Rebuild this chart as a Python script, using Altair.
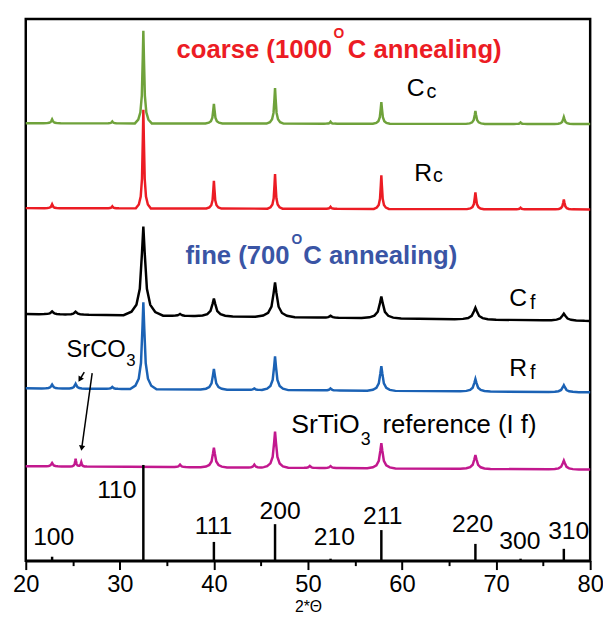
import altair as alt
import numpy as np
import pandas as pd

# ---------------- data ----------------
# x axis: 2*Theta (deg); y: stacked intensity (arbitrary units)
trace_names = ["Cc", "Rc", "Cf", "Rf", "If"]
trace_colors = ["#6fa23b", "#ec1c24", "#000000", "#1b62b5", "#c2188e"]
bg_left = [443.3, 357.3, 250.0, 174.7, 95.7]    # background at 20 deg
bg_right = [442.5, 356.0, 243.0, 170.7, 92.3]   # background at 80 deg

cc_pos = [22.8, 29.2, 32.5, 40.0, 46.5, 52.4, 57.8, 67.8, 72.6, 77.2]
cc_height = [4, 2, 94, 20, 36, 2, 22, 13, 1.5, 7]
cc_width = [0.9, 0.7, 0.9, 0.9, 0.9, 0.7, 0.9, 1.0, 0.7, 1.0]

rc_pos = [22.8, 29.2, 32.5, 40.0, 46.5, 52.4, 57.8, 67.8, 72.6, 77.2]
rc_height = [4, 2, 100, 28, 35, 2, 34, 17, 1.5, 10]
rc_width = [0.8, 0.7, 0.8, 0.8, 0.8, 0.7, 0.8, 0.9, 0.7, 0.9]

cf_pos = [22.8, 25.3, 32.5, 36.4, 40.0, 46.5, 52.4, 57.8, 67.8, 77.2]
cf_height = [3, 3, 90, 2, 18, 35, 2, 22, 12, 7]
cf_width = [1.4, 1.4, 2.1, 1.4, 2.0, 2.1, 1.4, 2.1, 2.2, 2.2]

rf_pos = [22.8, 25.3, 29.2, 32.5, 40.0, 44.3, 46.5, 52.4, 57.8, 67.8, 77.2]
rf_height = [4, 5, 2, 88, 21, 1.5, 34, 2, 25, 12.5, 7]
rf_width = [1.1, 1.1, 1.0, 1.4, 1.4, 1.0, 1.4, 1.0, 1.5, 1.6, 1.6]

if_pos = [22.8, 25.3, 25.9, 36.4, 40.0, 44.3, 46.5, 50.2, 52.4, 57.8, 67.8, 77.2]
if_height = [3.5, 8, 4.5, 2.5, 20, 3, 36.5, 2, 2, 25.5, 14, 9]
if_width = [1.0, 0.6, 0.6, 1.0, 1.4, 1.0, 1.4, 1.0, 1.0, 1.5, 1.6, 1.6]

# reference stick pattern (SrTiO3)
hkl_labels = ["100", "110", "111", "200", "210", "211", "220", "300", "310"]
hkl_pos = [22.8, 32.5, 40.0, 46.5, 52.4, 57.8, 67.8, 72.6, 77.2]
hkl_height = [4, 97, 19, 37, 2, 31, 17, 2, 12]

major_ticks = [20, 30, 40, 50, 60, 70, 80]
minor_ticks = [25, 35, 45, 55, 65, 75]

# ---------------- build line vertices from the peak tables ----------------
PROFILE_U = [-1.0, -0.6, -0.35, -0.18, -0.07, 0.0, 0.07, 0.18, 0.35, 0.6, 1.0]
PROFILE_F = [0.0, 0.04, 0.12, 0.3, 0.7, 1.0, 0.7, 0.3, 0.12, 0.04, 0.0]

tables = {
    "Cc": (cc_pos, cc_height, cc_width),
    "Rc": (rc_pos, rc_height, rc_width),
    "Cf": (cf_pos, cf_height, cf_width),
    "Rf": (rf_pos, rf_height, rf_width),
    "If": (if_pos, if_height, if_width),
}


def trace_frame(i, name):
    pos, hgt, wid = tables[name]
    xs = [20.0, 80.0]
    for c, w in zip(pos, wid):
        xs += [c + u * w for u in PROFILE_U]
    xs = np.unique(np.clip(np.array(xs), 20, 80))
    ys = bg_left[i] + (bg_right[i] - bg_left[i]) * (xs - 20) / 60.0
    for c, h, w in zip(pos, hgt, wid):
        ys = ys + h * np.interp((xs - c) / w, PROFILE_U, PROFILE_F, left=0, right=0)
    return pd.DataFrame({"two_theta": xs, "intensity": ys, "trace": name})


X_DOMAIN = [20, 80]
Y_DOMAIN = [0, 549]
FONT = "Liberation Sans"
XSCALE = alt.Scale(domain=X_DOMAIN, nice=False, zero=False)

MAJOR_AXIS = alt.Axis(
    orient="bottom",
    values=major_ticks,
    tickSize=9,
    tickWidth=2,
    tickColor="black",
    domainColor="black",
    domainWidth=2.5,
    grid=False,
    labelFont=FONT,
    labelFontSize=24,
    labelColor="black",
    labelPadding=3,
    labelFlush=False,
    title="2*Θ",
    titleFont=FONT,
    titleFontSize=16,
    titleFontWeight="normal",
    titleColor="black",
    titlePadding=3,
)
MINOR_AXIS = alt.Axis(
    orient="bottom",
    values=minor_ticks,
    tickSize=5,
    tickWidth=2,
    tickColor="black",
    domain=False,
    grid=False,
    labels=False,
    title="",
)


def xenc(axis=None):
    if axis is None:
        return alt.X("two_theta:Q", scale=XSCALE, axis=None)
    return alt.X("two_theta:Q", scale=XSCALE, axis=axis)


def yenc(field="intensity"):
    return alt.Y(f"{field}:Q", scale=alt.Scale(domain=Y_DOMAIN, nice=False, zero=False), axis=None)


layers = []
for i, name in enumerate(trace_names):
    df = trace_frame(i, name)
    layers.append(
        alt.Chart(df)
        .mark_line(color=trace_colors[i], strokeWidth=2.5, interpolate="linear")
        .encode(x=xenc(MAJOR_AXIS if i == 0 else None), y=yenc())
    )

sticks = pd.DataFrame({"two_theta": hkl_pos, "intensity": [0] * len(hkl_pos), "top": hkl_height, "hkl": hkl_labels})
layers.append(
    alt.Chart(sticks).mark_rule(color="black", strokeWidth=2.5).encode(x=xenc(MINOR_AXIS), y=yenc(), y2="top:Q")
)

# hkl label anchor positions (annotation layout)
hkl_lx = [22.97, 29.68, 39.96, 47.04, 52.81, 57.95, 67.50, 72.53, 77.72]
hkl_ly = [16, 64, 27, 42, 16, 37, 29, 12, 22]
hkl_df = pd.DataFrame({"two_theta": hkl_lx, "intensity": hkl_ly, "hkl": hkl_labels})
layers.append(
    alt.Chart(hkl_df)
    .mark_text(font=FONT, fontSize=25, color="black", align="center", baseline="alphabetic")
    .encode(x=xenc(), y=yenc(), text="hkl:N")
)


def label(text, x, y, size, color="black", align="left", weight="normal", font=FONT):
    df = pd.DataFrame({"two_theta": [x], "intensity": [y], "t": [text]})
    return (
        alt.Chart(df)
        .mark_text(font=font, fontSize=size, color=color, align=align, baseline="alphabetic", fontWeight=weight)
        .encode(x=xenc(), y=yenc(), text="t:N")
    )


RED = "#ec1c24"
BLUE = "#3a55a5"
layers += [
    label("coarse (1000", 52.55, 509, 26, RED, "right", "bold"),
    label("O", 52.71, 530, 14, RED, "left", "bold"),
    label("C annealing)", 54.23, 509, 26, RED, "left", "bold"),
    label("fine (700", 48.04, 301, 26, BLUE, "right", "bold"),
    label("O", 48.25, 321, 14, BLUE, "left", "bold"),
    label("C annealing)", 49.51, 301, 26, BLUE, "left", "bold"),
    label("C", 60.5, 471, 25),
    label("c", 62.6, 469, 20),
    label("R", 61.3, 385, 25),
    label("c", 63.3, 384, 20),
    label("C", 71.4, 258, 25),
    label("f", 73.6, 255, 20),
    label("R", 71.4, 187, 25),
    label("f", 73.6, 184, 20),
    label("SrCO", 30.63, 206, 24, align="right"),
    label("3", 30.68, 197, 17),
    label("SrTiO", 55.5, 129, 27, align="right"),
    label("3", 55.6, 117, 18),
    label("reference (I f)", 57.93, 129, 26),
]

# SrCO3 arrows
arrow_id = ["short", "short", "long", "long"]
arrow_x = [26.22, 25.75, 27.06, 25.95]
arrow_y = [191, 183.6, 190, 114]
arrows = pd.DataFrame({"two_theta": arrow_x, "intensity": arrow_y, "arrow": arrow_id})
layers.append(
    alt.Chart(arrows).mark_line(color="black", strokeWidth=1.5).encode(x=xenc(), y=yenc(), detail="arrow:N")
)
heads = pd.DataFrame({"two_theta": [25.75, 25.95], "intensity": [183.6, 114], "angle": [31, 8]})
for _, r in heads.iterrows():
    layers.append(
        alt.Chart(pd.DataFrame([r]))
        .mark_point(shape="triangle-down", filled=True, color="black", size=40, opacity=1, angle=float(r["angle"]))
        .encode(x=xenc(), y=yenc())
    )

chart = (
    alt.layer(*layers)
    .resolve_axis(x="independent")
    .properties(
        width=572,
        height=549,
        autosize="none",
        padding={"left": 18, "top": 7, "right": 13, "bottom": 54},
    )
    .configure_view(stroke="black", strokeWidth=2.5)
)

chart.save("out.html", embed_options={"renderer": "svg", "actions": False})
